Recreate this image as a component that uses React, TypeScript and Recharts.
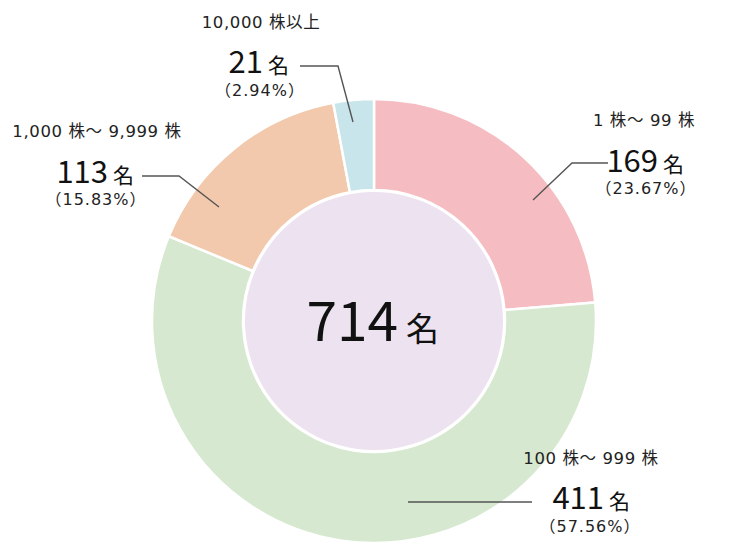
import { PieChart, Pie, Cell } from 'recharts'

const categories = ['1 株～ 99 株', '100 株～ 999 株', '1,000 株～ 9,999 株', '10,000 株以上']
const holders = [169, 411, 113, 21]
const COLORS = ['#f5bdc1', '#d6e8cf', '#f2c9ac', '#c7e5ea']
const UNIT = '名'

// annotation placement, offsets from the pie centre
const LABEL_LAYOUT = [
    { line: [[159, -121], [198, -158], [234, -158]], cat: [270, -195], num: [284, -149], pct: [272, -127] },
    { line: [[34, 181], [158, 181]], cat: [217, 143], num: [230, 188], pct: [216, 211] },
    { line: [[-155, -114], [-195, -145], [-232, -145]], cat: [-277, -184], num: [-266, -138], pct: [-278, -116] },
    { line: [[-21, -199], [-36, -255], [-74, -255]], cat: [-113, -293], num: [-111, -248], pct: [-114, -225] },
]

const BIG_FONT = '"Noto Sans CJK JP", sans-serif'
const SMALL_FONT = '"DejaVu Sans", "Noto Sans CJK JP", sans-serif'

const total = holders.reduce((a, b) => a + b, 0)
const data = categories.map((name, i) => ({ name, value: holders[i] }))

function renderLabel(props: any) {
    const { cx, cy, index, value } = props
    const l = LABEL_LAYOUT[index]
    const pts = l.line.map(([x, y]) => `${cx + x},${cy + y}`).join(' ')
    const pct = ((value / total) * 100).toFixed(2)
    return (
        <g key={`lbl-${index}`}>
            <polyline points={pts} fill="none" stroke="#555" strokeWidth={1.4} />
            <text x={cx + l.cat[0]} y={cy + l.cat[1]} textAnchor="middle" fontSize={16.5} letterSpacing={0.6} fill="#222" fontFamily={SMALL_FONT}>
                {categories[index]}
            </text>
            <text x={cx + l.num[0]} y={cy + l.num[1]} textAnchor="end" fontSize={31} fill="#111" fontFamily={BIG_FONT}>
                {value}
            </text>
            <text x={cx + l.num[0] + 5} y={cy + l.num[1]} textAnchor="start" fontSize={21} fill="#111" fontFamily={BIG_FONT}>
                {UNIT}
            </text>
            <text x={cx + l.pct[0]} y={cy + l.pct[1]} textAnchor="middle" fontSize={16} letterSpacing={1} fill="#222" fontFamily={SMALL_FONT}>
                {`（${pct}%）`}
            </text>
        </g>
    )
}

function renderCenter(props: any) {
    const { cx, cy } = props
    return (
        <g key="center">
            <text x={cx + 24} y={cy + 20} textAnchor="end" fontSize={55} fill="#111" fontFamily={BIG_FONT}>
                {total}
            </text>
            <text x={cx + 32} y={cy + 20} textAnchor="start" fontSize={33} fill="#111" fontFamily={BIG_FONT}>
                {UNIT}
            </text>
        </g>
    )
}

export default function App() {
    return (
        <div style={{ position: 'absolute', left: 0, top: 0, background: '#fff' }}>
            <PieChart width={730} height={557} margin={{ top: 0, right: 0, bottom: 0, left: 0 }}>
                <Pie
                    data={data}
                    dataKey="value"
                    nameKey="name"
                    cx={374}
                    cy={321}
                    innerRadius={131}
                    outerRadius={222}
                    startAngle={90}
                    endAngle={-270}
                    stroke="#fff"
                    strokeWidth={2.5}
                    label={renderLabel}
                    labelLine={false}
                    isAnimationActive={false}
                >
                    {data.map((entry, i) => (
                        <Cell key={entry.name} fill={COLORS[i]} />
                    ))}
                </Pie>
                <Pie
                    data={[{ name: 'total', value: total }]}
                    dataKey="value"
                    cx={374}
                    cy={321}
                    innerRadius={0}
                    outerRadius={129}
                    fill="#ede2f0"
                    stroke="none"
                    label={renderCenter}
                    labelLine={false}
                    isAnimationActive={false}
                />
            </PieChart>
        </div>
    )
}
